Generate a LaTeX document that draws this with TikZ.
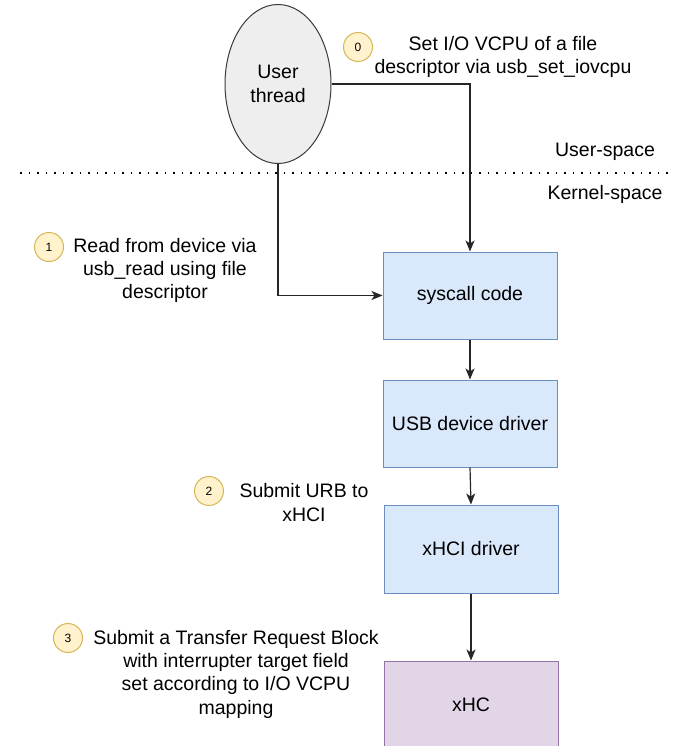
\documentclass[tikz,border=0pt]{standalone}
\usepackage{fontspec}
\setmainfont{Liberation Sans}
\usetikzlibrary{arrows.meta,shapes.geometric}
\definecolor{bluefill}{HTML}{DAE8FC}
\definecolor{bluedraw}{HTML}{6C8EBF}
\definecolor{purpfill}{HTML}{E1D5E7}
\definecolor{purpdraw}{HTML}{9673A6}
\definecolor{greyfill}{HTML}{EEEEEE}
\definecolor{greydraw}{HTML}{36393D}
\definecolor{yelfill}{HTML}{FFF2CC}
\definecolor{yeldraw}{HTML}{D6B656}
\tikzset{
  txt/.style={font=\fontsize{19.5}{23.3}\selectfont, align=center, inner sep=0},
  box/.style={draw=bluedraw, fill=bluefill, line width=1pt, minimum width=174pt, minimum height=87pt, inner sep=0, font=\fontsize{19.5}{23.3}\selectfont},
  hcbox/.style={box, draw=purpdraw, fill=purpfill},
  num/.style={circle, draw=yeldraw, fill=yelfill, line width=1pt, minimum size=29pt, inner sep=0, font=\fontsize{12}{14}\selectfont},
  arr/.style={draw=black!85, line width=1.2pt, -{Stealth[length=11pt,width=9pt,inset=3pt]}},
}
\begin{document}
\begin{tikzpicture}[x=1pt,y=-1pt]
\useasboundingbox (0,0) rectangle (686,746);
% user thread
\node[ellipse, draw=greydraw, fill=greyfill, line width=1pt, minimum width=106pt, minimum height=159pt, inner sep=0, txt] (ut) at (278,84) {User\\thread};
% boxes
\node[box] (sys) at (470,295.5) {syscall code};
\node[box] (usb) at (470,423.5) {USB device driver};
\node[box, minimum height=88pt] (xhci) at (471,549) {xHCI driver};
\node[hcbox, minimum height=88pt] (xhc) at (471,705) {xHC};
% divider
\coordinate (dl) at (20,173);
\coordinate (dr) at (674,173);
\draw[line width=1.6pt, dash pattern=on 1.6pt off 6.9pt] (dl) -- (dr);
\node[txt] (us) at (605,152) {User-space};
\node[txt] (ks) at (605,194) {Kernel-space};
% step markers
\node[num] (c0) at (358,47) {0};
\node[txt] (t0) at (503,57) {Set I/O VCPU of a file\\descriptor via usb\_set\_iovcpu};
\node[num] (c1) at (49,247) {1};
\node[txt] (t1) at (165,270.5) {Read from device via\\usb\_read using file\\descriptor};
\node[num] (c2) at (209,491) {2};
\node[txt] (t2) at (304,502.5) {Submit URB to\\xHCI};
\node[num] (c3) at (68,638) {3};
\node[txt] (t3) at (236,674) {Submit a Transfer Request Block\\with interrupter target field\\set according to I/O VCPU\\mapping};
% connectors
\draw[arr] (ut.east) -| (sys.north);
\draw[arr] (ut.south) |- (sys.west);
\draw[arr] (sys.south) -- (usb.north);
\draw[arr] (usb.south) -- (xhci.north);
\draw[arr] (xhci.south) -- (xhc.north);
\end{tikzpicture}
\end{document}
